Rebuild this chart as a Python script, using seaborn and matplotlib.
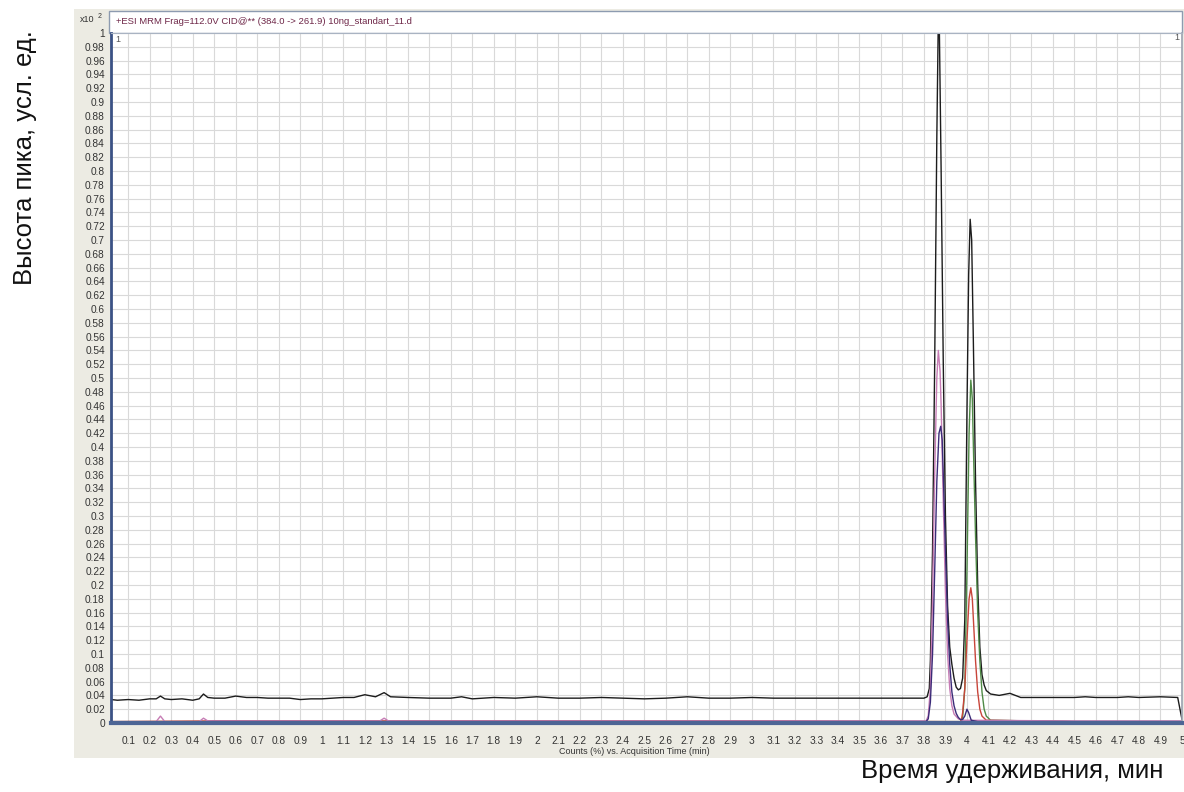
import matplotlib
matplotlib.use("Agg")
import matplotlib.pyplot as plt
from matplotlib.patches import Rectangle
import seaborn as sns
import pandas as pd

# ---------------- data ----------------
black_t = [0.02, 0.05, 0.10, 0.15, 0.20, 0.23, 0.25, 0.27, 0.30, 0.35, 0.40, 0.43, 0.45, 0.47,
           0.50, 0.55, 0.60, 0.65, 0.70, 0.75, 0.80, 0.85, 0.90, 0.95, 1.00, 1.05, 1.10, 1.15,
           1.20, 1.25, 1.29, 1.32, 1.40, 1.50, 1.60, 1.65, 1.70, 1.80, 1.90, 2.00, 2.10, 2.20,
           2.30, 2.40, 2.50, 2.60, 2.70, 2.80, 2.90, 3.00, 3.10, 3.20, 3.30, 3.40, 3.50, 3.60,
           3.70, 3.80, 3.815, 3.825, 3.83, 3.84, 3.85, 3.86, 3.866, 3.872, 3.88, 3.89, 3.90, 3.91,
           3.92, 3.93, 3.94, 3.95, 3.96, 3.97, 3.98, 3.99, 4.00, 4.008, 4.015, 4.022, 4.03, 4.04,
           4.05, 4.06, 4.07, 4.08, 4.09, 4.11, 4.15, 4.20, 4.25, 4.30, 4.40, 4.50, 4.55, 4.60,
           4.70, 4.75, 4.80, 4.90, 4.98, 5.00]
black_y = [0.034, 0.033, 0.034, 0.033, 0.035, 0.035, 0.039, 0.035, 0.034, 0.035, 0.033, 0.035, 0.042, 0.037,
           0.036, 0.036, 0.039, 0.037, 0.037, 0.036, 0.036, 0.036, 0.034, 0.035, 0.035, 0.036, 0.037, 0.037,
           0.041, 0.038, 0.044, 0.038, 0.037, 0.036, 0.036, 0.038, 0.035, 0.037, 0.036, 0.038, 0.036, 0.036,
           0.037, 0.036, 0.035, 0.036, 0.038, 0.036, 0.036, 0.037, 0.036, 0.036, 0.036, 0.036, 0.036, 0.036,
           0.036, 0.036, 0.038, 0.050, 0.090, 0.250, 0.520, 0.850, 1.000, 1.000, 0.800, 0.520, 0.300, 0.170,
           0.110, 0.085, 0.065, 0.052, 0.048, 0.050, 0.065, 0.150, 0.450, 0.650, 0.730, 0.700, 0.550, 0.350,
           0.200, 0.110, 0.070, 0.055, 0.047, 0.042, 0.040, 0.043, 0.037, 0.037, 0.037, 0.037, 0.038, 0.037,
           0.037, 0.038, 0.037, 0.038, 0.037, 0.005]

navy_t = [0.02, 0.50, 1.00, 1.50, 2.00, 2.50, 3.00, 3.50, 3.81, 3.82, 3.83, 3.84, 3.85, 3.86,
          3.87, 3.878, 3.885, 3.89, 3.90, 3.91, 3.92, 3.93, 3.94, 3.95, 3.96, 3.97, 3.98, 3.99,
          4.00, 4.008, 4.02, 4.05, 4.50, 5.00]
navy_y = [0.001, 0.002, 0.002, 0.002, 0.002, 0.002, 0.002, 0.002, 0.002, 0.006, 0.030, 0.100, 0.220, 0.350,
          0.420, 0.430, 0.410, 0.360, 0.250, 0.150, 0.085, 0.045, 0.025, 0.014, 0.008, 0.005, 0.005, 0.010,
          0.020, 0.015, 0.004, 0.002, 0.002, 0.002]

pink_t = [0.02, 0.23, 0.25, 0.27, 0.43, 0.45, 0.47, 1.27, 1.29, 1.31, 2.00, 3.00, 3.81, 3.82,
          3.83, 3.84, 3.85, 3.86, 3.867, 3.875, 3.88, 3.89, 3.90, 3.91, 3.92, 3.93, 3.94, 3.96,
          3.98, 4.50, 5.00]
pink_y = [0.002, 0.002, 0.010, 0.002, 0.002, 0.007, 0.003, 0.003, 0.007, 0.003, 0.003, 0.003, 0.003, 0.010,
          0.050, 0.180, 0.360, 0.500, 0.540, 0.510, 0.460, 0.320, 0.190, 0.100, 0.050, 0.025, 0.013, 0.006,
          0.004, 0.003, 0.003]

green_t = [0.02, 1.00, 2.00, 3.00, 3.97, 3.98, 3.99, 4.00, 4.01, 4.018, 4.025, 4.03, 4.04, 4.05,
           4.06, 4.07, 4.08, 4.09, 4.11, 4.50, 5.00]
green_y = [0.002, 0.002, 0.002, 0.002, 0.002, 0.008, 0.050, 0.220, 0.420, 0.497, 0.470, 0.400, 0.270, 0.160,
           0.090, 0.045, 0.020, 0.010, 0.004, 0.002, 0.002]

red_t = [0.02, 0.50, 1.00, 2.00, 3.00, 3.97, 3.975, 3.98, 3.99, 4.00, 4.01, 4.018, 4.025, 4.03,
         4.04, 4.05, 4.06, 4.07, 4.09, 4.50, 5.00]
red_y = [0.002, 0.003, 0.003, 0.003, 0.003, 0.002, 0.006, 0.015, 0.050, 0.120, 0.180, 0.196, 0.180, 0.150,
         0.090, 0.045, 0.020, 0.010, 0.004, 0.002, 0.002]

x_ticks = [round(0.1 * i, 1) for i in range(1, 51)]
y_ticks = [round(0.02 * i, 2) for i in range(0, 51)]

title_text = "+ESI MRM Frag=112.0V CID@** (384.0 -> 261.9) 10ng_standart_11.d"
xlabel_inner = "Counts (%) vs. Acquisition Time (min)"
ylabel_outer = "Высота пика, усл. ед."
xlabel_outer = "Время удерживания, мин"

# ---------------- figure ----------------
sns.set_style("white")
plt.rcParams['font.family'] = ['Liberation Sans', 'DejaVu Sans']

W, H = 1184, 792
fig = plt.figure(figsize=(W / 100, H / 100), dpi=100)
fig.patch.set_facecolor("white")

def fx(px):
    return px / W

def fy(py):
    return 1 - py / H

# beige software-window background
fig.patches.append(Rectangle((fx(74), fy(758)), fx(1184 - 74), (758 - 9) / H,
                             transform=fig.transFigure, facecolor="#ecebe3",
                             edgecolor="none", zorder=-10))
# white header strip
fig.patches.append(Rectangle((fx(109), fy(33)), fx(1182 - 109), (33 - 11) / H,
                             transform=fig.transFigure, facecolor="white",
                             edgecolor="#8d9bb0", linewidth=1.0, zorder=-9))

ax = fig.add_axes([fx(111), fy(723), fx(1182 - 111), 690 / H])
ax.set_facecolor("white")

traces = [
    (black_t, black_y, "#1c1c1c"),
    (green_t, green_y, "#4f8a46"),
    (red_t, red_y, "#c8453a"),
    (pink_t, pink_y, "#c77db5"),
    (navy_t, navy_y, "#3b2b78"),
]
for t, y, c in traces:
    df = pd.DataFrame({"t": t, "y": y})
    sns.lineplot(data=df, x="t", y="y", ax=ax, color=c, linewidth=1.0,
                 sort=False, estimator=None)

ax.set_xlim(0.02, 5.0)
ax.set_ylim(0, 1.0)
ax.set_xticks(x_ticks)
ax.set_xticklabels([f"{v:g}" for v in x_ticks])
ax.set_yticks(y_ticks)
ax.set_yticklabels([f"{v:g}" for v in y_ticks])
ax.set_xlabel("")
ax.set_ylabel("")
ax.grid(True, color="#d9d9d9", linewidth=0.8)
ax.set_axisbelow(True)
ax.tick_params(axis="y", direction="out", length=3, width=0.8, colors="#444444",
               labelsize=7.3, pad=1.5)
ax.tick_params(axis="x", direction="out", length=4, width=0.8, colors="#444444",
               labelsize=7.3, pad=5)
for lab in ax.get_xticklabels() + ax.get_yticklabels():
    lab.set_color("#333333")

ax.spines["left"].set_color("#3b5285")
ax.spines["left"].set_linewidth(2.0)
ax.spines["bottom"].set_color("#4d6595")
ax.spines["bottom"].set_linewidth(3.0)
ax.spines["top"].set_color("#a9b3c2")
ax.spines["top"].set_linewidth(0.8)
ax.spines["right"].set_color("#9aa3b0")
ax.spines["right"].set_linewidth(1.2)

# texts of the instrument window
fig.text(fx(116), fy(22), title_text, fontsize=6.8, color="#6e2748", va="center", ha="left")
fig.text(fx(80), fy(20), "x10", fontsize=6.5, color="#333333", va="center", ha="left")
fig.text(fx(98), fy(17), "2", fontsize=5, color="#333333", va="center", ha="left")
fig.text(fx(115), fy(40), "1", fontsize=6.5, color="#555555", va="center", ha="left")
fig.text(fx(1179), fy(37), "1", fontsize=6.5, color="#555555", va="center", ha="right")
fig.text(fx(634), fy(752), xlabel_inner, fontsize=6.5, color="#333333", va="center", ha="center")

# outer Russian labels
fig.text(fx(25), fy(158), ylabel_outer, fontsize=18.5, rotation=90, va="center", ha="center",
         color="#111111")
fig.text(fx(1012), fy(771), xlabel_outer, fontsize=18.5, va="center", ha="center",
         color="#111111")

fig.savefig("out.png", dpi=100)
